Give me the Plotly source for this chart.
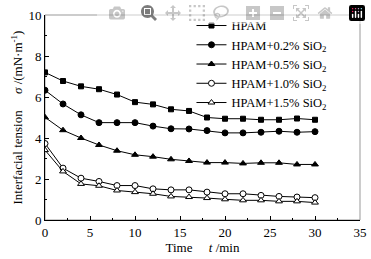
import plotly.graph_objects as go

time_min = [0, 2, 4, 6, 8, 10, 12, 14, 16, 18, 20, 22, 24, 26, 28, 30]
hpam = [7.20, 6.78, 6.52, 6.38, 6.12, 5.75, 5.64, 5.40, 5.32, 5.00, 4.94, 4.94, 4.89, 4.89, 4.95, 4.89]
hpam_02 = [6.33, 5.66, 5.13, 4.75, 4.75, 4.75, 4.58, 4.45, 4.44, 4.36, 4.25, 4.25, 4.28, 4.33, 4.28, 4.31]
hpam_05 = [5.01, 4.38, 4.00, 3.66, 3.38, 3.18, 3.09, 2.96, 2.88, 2.80, 2.80, 2.76, 2.79, 2.79, 2.71, 2.71]
hpam_10 = [3.73, 2.53, 2.04, 1.88, 1.68, 1.68, 1.52, 1.47, 1.47, 1.36, 1.28, 1.28, 1.20, 1.15, 1.12, 1.09]
hpam_15 = [3.41, 2.37, 1.76, 1.67, 1.44, 1.36, 1.28, 1.15, 1.12, 1.07, 1.01, 0.96, 0.96, 0.91, 0.91, 0.85]

series_names = ["HPAM", "HPAM+0.2% SiO<sub>2</sub>", "HPAM+0.5% SiO<sub>2</sub>",
                "HPAM+1.0% SiO<sub>2</sub>", "HPAM+1.5% SiO<sub>2</sub>"]
series_values = [hpam, hpam_02, hpam_05, hpam_10, hpam_15]
symbols = ["square", "circle", "triangle-up", "circle", "triangle-up"]
fills = ["black", "black", "black", "white", "white"]
sizes = [5, 6, 6, 6, 6]

FONT = "Liberation Serif"
fig = go.Figure()
for name, vals, sym, fc, sz in zip(series_names, series_values, symbols, fills, sizes):
    fig.add_trace(go.Scatter(
        x=time_min, y=vals, name=name, mode="lines+markers",
        line=dict(color="black", width=1),
        marker=dict(symbol=sym, size=sz, color=fc, line=dict(color="black", width=1)),
    ))

nb = "\u00a0"
fig.update_layout(
    width=371, height=259,
    margin=dict(l=45, r=11, t=11, b=39),
    paper_bgcolor="white", plot_bgcolor="white",
    font=dict(family=FONT, size=13, color="black"),
    showlegend=True,
    legend=dict(x=0.465, y=1.02, xanchor="left", yanchor="top",
                bgcolor="rgba(0,0,0,0)", borderwidth=0,
                font=dict(family=FONT, size=12.5), itemwidth=30,
                tracegroupgap=0),
    xaxis=dict(range=[0, 35], tickvals=[0, 5, 10, 15, 20, 25, 30, 35],
               automargin=False, ticklabeloverflow="allow",
               ticks="inside", ticklen=4, tickwidth=1, tickcolor="black",
               minor=dict(ticks="inside", ticklen=2, dtick=2.5, tickcolor="black"),
               showline=True, linecolor="black", linewidth=1,
               showgrid=False, zeroline=False,
               tickfont=dict(family=FONT, size=13),
               title=dict(text="Time" + nb * 5 + "<i>t</i> /min", standoff=4,
                          font=dict(family=FONT, size=13))),
    yaxis=dict(range=[0, 10], tickvals=[0, 2, 4, 6, 8, 10],
               automargin=False, ticklabeloverflow="allow",
               ticks="inside", ticklen=4, tickwidth=1, tickcolor="black",
               minor=dict(ticks="inside", ticklen=2, dtick=1, tickcolor="black"),
               showline=True, linecolor="black", linewidth=1,
               showgrid=False, zeroline=False,
               tickfont=dict(family=FONT, size=13),
               title=dict(text="Interfacial tension" + nb * 5 + "<i>σ</i> /(mN·m<sup>-1</sup>)",
                          standoff=2, font=dict(family=FONT, size=13))),
    shapes=[dict(type="rect", xref="paper", yref="paper", x0=0, x1=1, y0=0, y1=1,
                 line=dict(color="#999999", width=1), layer="below")],
)
# remove the browser's default page margin so the figure fills the window exactly
fig.write_html("out.html",
               post_script="document.body.style.margin='0';document.body.style.overflow='hidden';")
